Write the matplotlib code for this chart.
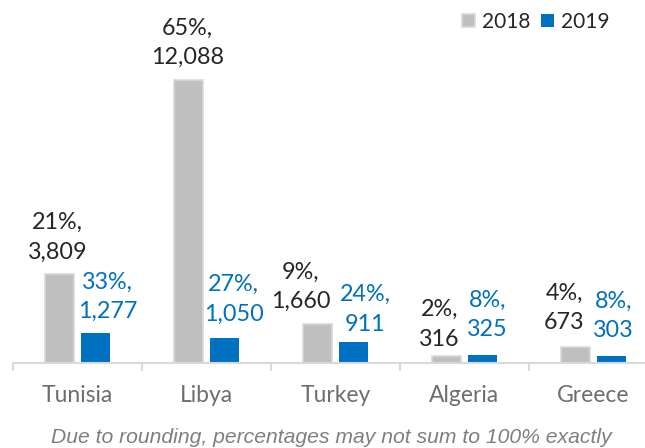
import matplotlib.pyplot as plt
import numpy as np

# data
countries = ['Tunisia', 'Libya', 'Turkey', 'Algeria', 'Greece']
years = ['2018', '2019']
arrivals_2018 = [3809, 12088, 1660, 316, 673]
share_2018 = [21, 65, 9, 2, 4]
arrivals_2019 = [1277, 1050, 911, 325, 303]
share_2019 = [33, 27, 24, 8, 8]
footnote = 'Due to rounding, percentages may not sum to 100% exactly'

# label nudges (pixels), as in the original layout
nudge_2018 = [(-2, 11), (-1, 12), (-17, 12), (-7, 6), (-11, 14)]
nudge_2019 = [(12, 11), (9, 14), (12, 7), (5, 15), (2, 15)]

grey = '#BFBFBF'
blue = '#0070C0'

plt.rcParams['font.family'] = ['Lato', 'DejaVu Sans']

fig = plt.figure(figsize=(6.45, 4.48), dpi=100)
ax = fig.add_axes([13 / 645, 1 - 363 / 448, 1.0, 363 / 448])

x = np.arange(len(countries))
w = 0.225
off = 0.14
b1 = ax.bar(x - off, arrivals_2018, w, color=grey, edgecolor='#D9D9D9',
            linewidth=1.2, label=years[0], zorder=2)
b2 = ax.bar(x + off, arrivals_2019, w, color=blue, label=years[1], zorder=2)

for i in range(len(countries)):
    ax.annotate(f'{share_2018[i]}%,\n{arrivals_2018[i]:,}',
                xy=(x[i] - off, arrivals_2018[i]), xytext=nudge_2018[i],
                textcoords='offset pixels', ha='center', va='bottom',
                fontsize=16.8, color='#262626', linespacing=1.5)
    ax.annotate(f'{share_2019[i]}%,\n{arrivals_2019[i]:,}',
                xy=(x[i] + off, arrivals_2019[i]), xytext=nudge_2019[i],
                textcoords='offset pixels', ha='center', va='bottom',
                fontsize=16.8, color=blue, linespacing=1.5)

ax.set_xlim(-0.5, len(countries) - 0.5)
ax.set_ylim(0, 15505)
for s in ['top', 'right', 'left']:
    ax.spines[s].set_visible(False)
ax.spines['bottom'].set_color('#D9D9D9')
ax.spines['bottom'].set_linewidth(1.5)
ax.set_yticks([])

ax.set_xticks(np.arange(-0.5, len(countries)), labels=[])
ax.tick_params(axis='x', which='major', length=6, width=1.5, color='#D9D9D9')
ax.set_xticks(x, labels=countries, minor=True)
ax.tick_params(axis='x', which='minor', length=0, pad=16,
               labelsize=16.5, labelcolor='#6E6E6E')

ax.legend(ncol=2, frameon=False, loc='upper right',
          bbox_to_anchor=(609 / 645, 1 - 12 / 448), bbox_transform=fig.transFigure,
          fontsize=15, handlelength=0.62, handleheight=0.62,
          handletextpad=0.3, columnspacing=0.55, labelcolor='#262626',
          borderaxespad=0, borderpad=0)

fig.text(331 / 645, 1 - 437 / 448, footnote, ha='center', va='center',
         fontsize=15.2, style='italic', color='#7F7F7F',
         family=['Liberation Sans', 'DejaVu Sans'])

fig.savefig('out.png', dpi=100)
